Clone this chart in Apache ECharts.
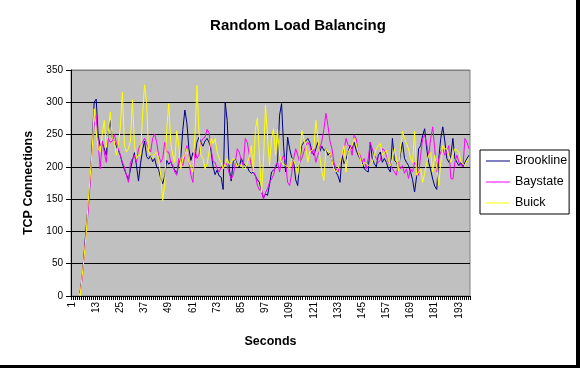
<!DOCTYPE html>
<html>
<head>
<meta charset="utf-8">
<script src="https://cdn.jsdelivr.net/npm/echarts@6/dist/echarts.min.js"></script>
<style>html,body{margin:0;padding:0;background:#fff;}#c{width:580px;height:368px;}</style>
</head>
<body>
<div id="c"></div>
<script>
const titleText = "Random Load Balancing";
const seriesNames = ["Brookline", "Baystate", "Buick"];
const yTicks = [0, 50, 100, 150, 200, 250, 300, 350];
const categoryCount = 198;
const categories = [];
for (let i = 1; i <= categoryCount; i++) categories.push(String(i));

const brookline = [null,null,null,null,5,30,65,105,140,180,
235,300,305,248,232,238,228,218,255,272,
245,240,232,225,218,205,196,188,180,196,
210,222,202,178,205,226,240,216,212,218,
208,213,200,196,182,174,186,210,204,208,
200,195,190,205,215,258,288,268,228,210,
222,214,238,246,238,232,240,244,238,225,
200,188,195,186,184,165,300,272,198,178,
208,212,204,200,213,206,202,200,193,190,
192,186,180,176,162,152,158,156,172,192,
195,198,208,280,298,232,192,246,228,215,
208,180,171,208,233,238,240,244,238,225,
218,228,238,224,232,225,228,218,222,210,
202,192,186,176,218,205,212,223,233,228,
238,226,218,212,207,197,194,192,238,213,
205,200,218,223,207,213,207,197,192,244,
210,207,197,220,238,213,207,202,192,180,
161,185,228,233,249,259,228,207,195,181,
170,165,213,244,262,240,213,207,218,244,
213,207,202,207,200,207,213,218];

const baystate = [null,null,null,null,5,25,60,100,130,175,
230,265,280,234,197,240,223,207,244,238,
240,250,238,228,218,207,200,187,176,207,
213,218,207,228,234,238,244,236,228,223,
244,251,238,218,207,213,238,223,223,207,
202,192,187,213,213,202,218,233,207,187,
176,228,213,218,238,244,246,258,253,228,
208,207,197,192,200,202,207,202,190,181,
187,205,228,223,210,202,244,238,218,202,
192,187,171,164,166,150,160,166,176,181,
187,202,207,192,210,218,207,176,171,190,
213,228,218,207,213,223,233,238,233,220,
228,207,218,228,240,258,283,264,240,228,
207,197,192,207,218,228,244,233,233,218,
249,244,223,218,207,213,197,213,238,228,
218,213,207,210,228,226,218,207,202,197,
192,187,207,197,202,190,197,182,197,192,
207,202,187,218,244,249,236,218,244,262,
228,192,213,223,228,218,223,233,182,181,
207,218,207,202,200,244,238,228];

const buick = [null,null,null,null,0,30,60,95,145,185,
225,290,254,228,223,251,272,230,254,285,
244,240,218,233,262,316,233,223,228,240,
304,233,213,218,218,280,327,300,223,218,
213,220,223,213,187,148,171,258,298,238,
218,207,256,233,197,213,218,228,207,200,
192,249,326,254,218,213,197,204,223,244,
236,244,223,213,207,197,205,213,204,207,
213,210,200,203,202,198,197,207,215,233,
192,258,276,218,160,207,295,249,202,244,
259,218,258,218,207,204,202,200,197,213,
210,202,187,210,256,244,233,207,223,226,
228,272,244,215,192,179,228,223,223,210,
197,192,197,207,220,233,192,223,228,233,
244,236,223,213,202,207,205,202,204,207,
218,228,233,236,218,222,226,210,202,213,
228,213,194,230,255,244,236,228,213,207,
255,187,192,197,176,190,207,218,223,192,
218,200,171,207,233,228,228,218,207,218,
228,226,223,207,205,202,210,213];

const colors = ["#000080", "#FF00FF", "#FFFF00"];
const values = [brookline, baystate, buick];

const chart = echarts.init(document.getElementById('c'), null, {renderer: 'canvas'});
const font = '"Liberation Sans", Arial, sans-serif';
chart.setOption({
  animation: false,
  backgroundColor: '#ffffff',
  title: {
    text: titleText, left: 293, top: 13, textAlign: 'center',
    textStyle: {fontFamily: font, fontSize: 15, fontWeight: 'bold', color: '#000'}
  },
  grid: {
    left: 71, right: 110, top: 70, bottom: 72, show: true,
    backgroundColor: '#C0C0C0', borderColor: '#808080', borderWidth: 1
  },
  legend: {
    orient: 'vertical', left: 480, top: 150,
    data: seriesNames.map(n => ({name: n, icon: 'rect'})),
    backgroundColor: '#fff', borderColor: '#000', borderWidth: 1,
    padding: [4, 2, 4, 6], itemGap: 7, itemWidth: 24, itemHeight: 1,
    textStyle: {fontFamily: font, fontSize: 12.5, color: '#000', lineHeight: 14}
  },
  xAxis: {
    type: 'category', data: categories, boundaryGap: true,
    name: 'Seconds', nameLocation: 'middle', nameGap: 39,
    nameTextStyle: {fontFamily: font, fontSize: 12.5, fontWeight: 'bold', color: '#000'},
    axisLine: {lineStyle: {color: '#000', width: 1}},
    axisTick: {show: true, interval: 0, length: 4, lineStyle: {color: '#000'}},
    axisLabel: {interval: 11, rotate: 90, fontFamily: font, fontSize: 10, color: '#000', margin: 6},
    splitLine: {show: false}
  },
  yAxis: {
    type: 'value', min: yTicks[0], max: yTicks[yTicks.length - 1], interval: 50,
    name: 'TCP Connections', nameLocation: 'middle', nameGap: 35, nameRotate: 90,
    nameTextStyle: {fontFamily: font, fontSize: 12.5, fontWeight: 'bold', color: '#000'},
    axisLine: {show: true, lineStyle: {color: '#000', width: 1}},
    axisTick: {show: true, length: 5, lineStyle: {color: '#000'}},
    axisLabel: {fontFamily: font, fontSize: 10, color: '#000', margin: 8},
    splitLine: {show: true, lineStyle: {color: ['#000','#000','#000','#000','#000','#000','#000','#808080'], width: 1}}
  },
  series: seriesNames.map((n, k) => ({
    name: n, type: 'line', data: values[k], symbol: 'none', showSymbol: false,
    lineStyle: {color: colors[k], width: 1}, itemStyle: {color: colors[k]},
    connectNulls: false
  })),
  graphic: [
    {type: 'rect', shape: {x: 576, y: 0, width: 4, height: 368}, style: {fill: '#000'}},
    {type: 'rect', shape: {x: 0, y: 365, width: 580, height: 3}, style: {fill: '#000'}}
  ]
});
</script>
</body>
</html>
